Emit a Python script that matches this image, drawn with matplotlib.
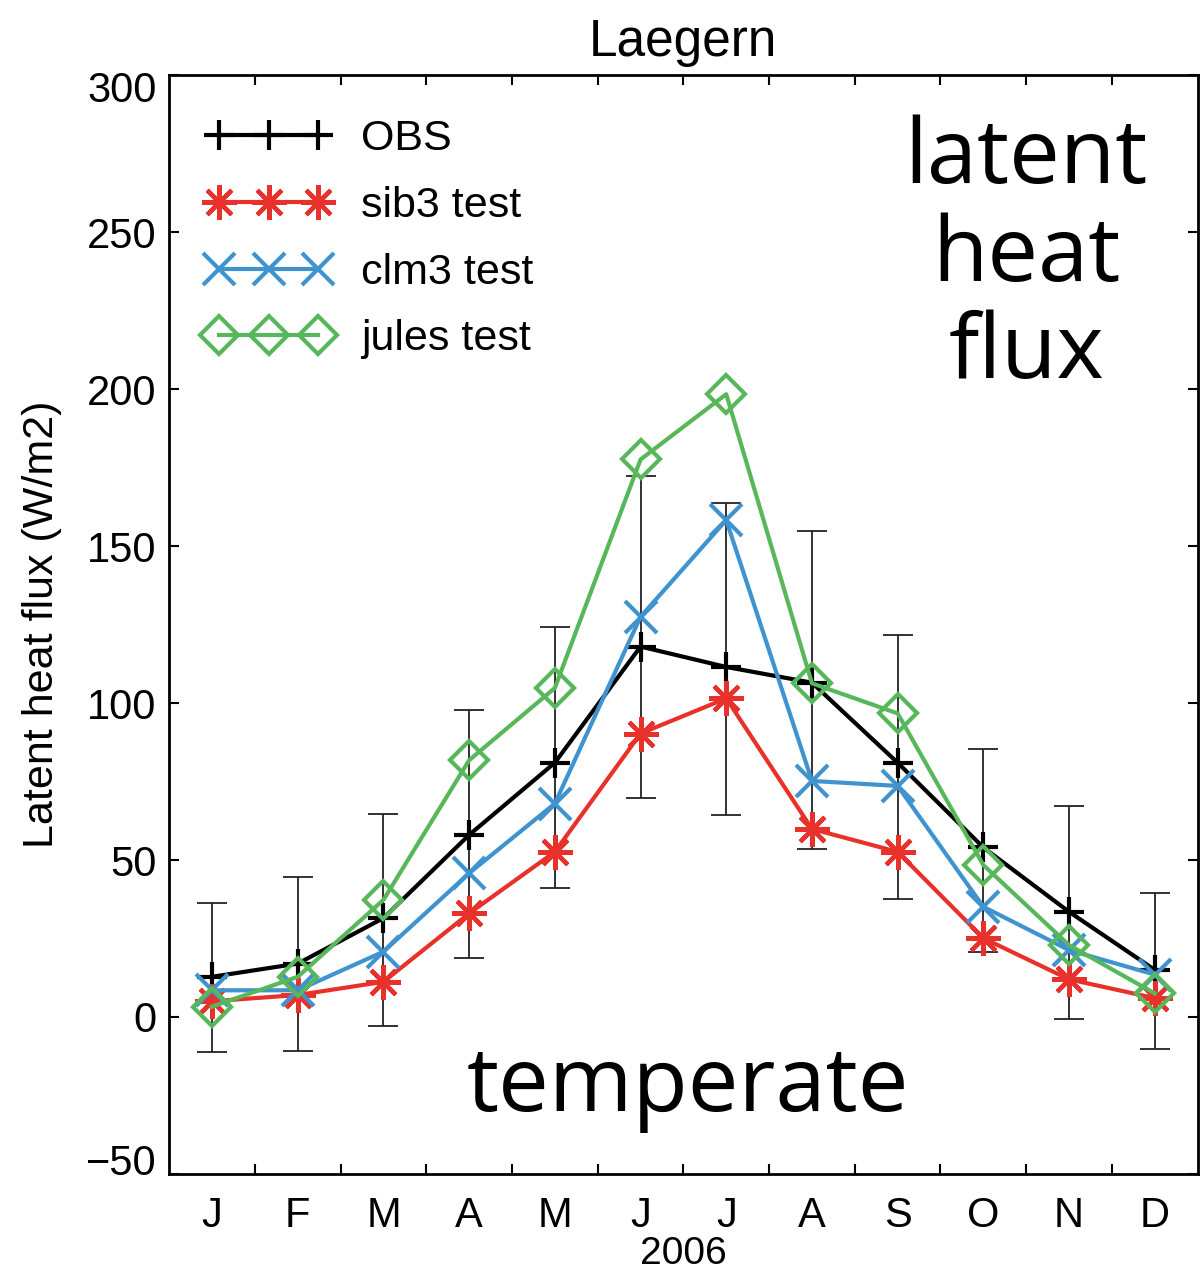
import matplotlib
matplotlib.use("Agg")
import matplotlib.pyplot as plt
from matplotlib.transforms import ScaledTranslation

months = ["J", "F", "M", "A", "M", "J", "J", "A", "S", "O", "N", "D"]
month_idx = list(range(1, 13))

obs = [12.8, 17.0, 31.5, 58.0, 81.0, 118.0, 111.5, 106.5, 81.0, 54.0, 33.5, 15.0]
obs_low = [-11.2, -10.7, -2.8, 18.9, 41.0, 69.7, 64.3, 53.5, 37.5, 20.8, -0.7, -10.3]
obs_high = [36.2, 44.7, 64.6, 97.8, 124.2, 172.3, 163.6, 154.9, 121.7, 85.3, 67.2, 39.4]
sib3 = [5.0, 7.0, 11.2, 33.0, 52.6, 90.3, 101.5, 59.9, 52.6, 25.1, 12.0, 6.0]
clm3 = [8.5, 8.5, 20.8, 45.8, 68.0, 127.5, 158.3, 75.2, 73.6, 35.1, 21.3, 13.5]
jules = [3.3, 12.8, 37.3, 81.8, 104.8, 177.6, 198.4, 106.3, 96.7, 48.4, 22.9, 7.5]

plt.rcParams["font.family"] = ["Liberation Sans", "DejaVu Sans"]

fig = plt.figure(figsize=(12, 12.76), dpi=100)
ax = fig.add_axes([0.141, 0.080, 0.857, 0.861])

# error bars of the observations
err_lo = [o - l for o, l in zip(obs, obs_low)]
err_hi = [h - o for o, h in zip(obs, obs_high)]
ax.errorbar(month_idx, obs, yerr=[err_lo, err_hi], fmt="none", ecolor="#222222",
            elinewidth=1.3, capsize=11, capthick=1.3, zorder=1)

lw = 3.0
ax.plot(month_idx, obs, color="black", lw=lw, marker="+", ms=22, mew=3,
        label="OBS", zorder=2)
ax.plot(month_idx, sib3, color="#e8312a", lw=lw, marker=(8, 2, 0), ms=25, mew=3,
        label="sib3 test", zorder=3)
ax.plot(month_idx, clm3, color="#3f93cf", lw=lw, marker="x", ms=23, mew=3,
        label="clm3 test", zorder=4)
ax.plot(month_idx, jules, color="#58b75a", lw=lw, marker="D", ms=19, mew=3,
        mfc="none", label="jules test", zorder=5)

ax.set_xlim(0.5, 12.5)
ax.set_ylim(-50, 300)
ax.set_yticks(range(-50, 301, 50))
ax.set_xticks([m + 0.5 for m in month_idx[:-1]])
ax.set_xticklabels([])
ax.set_xticks(month_idx, minor=True)
ax.set_xticklabels(months, minor=True)
ax.tick_params(axis="x", which="minor", length=0, pad=16, labelsize=30)
ax.tick_params(axis="x", which="major", direction="in", length=7, width=1.5,
               top=True, bottom=True)
ax.tick_params(axis="y", direction="in", length=7, width=1.5, left=True, right=True,
               labelsize=30, pad=9)
for sp in ax.spines.values():
    sp.set_linewidth(2)

# end labels sit a little inside the axis, as in the source figure
fig.canvas.draw()
ylabels = ax.get_yticklabels()
ylabels[-1].set_transform(ylabels[-1].get_transform() +
                          ScaledTranslation(0, -11 / 100, fig.dpi_scale_trans))
ylabels[0].set_transform(ylabels[0].get_transform() +
                         ScaledTranslation(0, 14 / 100, fig.dpi_scale_trans))

ax.set_xlabel("2006", fontsize=28, labelpad=0)
ax.set_ylabel("Latent heat flux (W/m2)", fontsize=31, labelpad=17)
ax.set_title("Laegern", fontsize=37, pad=14)

ax.legend(loc="upper left", bbox_to_anchor=(0.036, 0.96), frameon=False,
          fontsize=31, numpoints=3, handlelength=2.9, handletextpad=0.7,
          labelspacing=0.62, borderpad=0, borderaxespad=0)

ax.text(10.5, 242, "latent\nheat\nflux", fontsize=65, family="Open Sans",
        ha="center", va="center", linespacing=1.1)
ax.text(6.55, -30, "temperate", fontsize=65, family="Open Sans",
        ha="center", va="baseline")

fig.savefig("out.png", dpi=100)
